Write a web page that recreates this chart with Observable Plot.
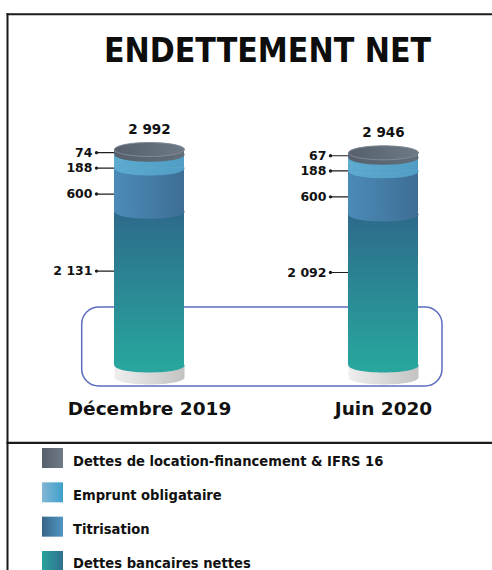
<!DOCTYPE html>
<html><head><meta charset="utf-8">
<script src="https://cdn.jsdelivr.net/npm/d3@7"></script>
<script src="https://cdn.jsdelivr.net/npm/@observablehq/plot@0.6"></script>
<style>
html,body{margin:0;padding:0;background:#fff;}
#chart{position:relative;width:492px;height:570px;overflow:hidden;}
.cond{font-family:"DejaVu Sans Condensed","DejaVu Sans",sans-serif;font-stretch:condensed;font-weight:bold;}
</style>
</head><body>
<svg width="0" height="0" style="position:absolute">
<defs>
  <linearGradient id="gBank" x1="0" y1="0" x2="0" y2="1">
    <stop offset="0" stop-color="#2d6a8b"/><stop offset="1" stop-color="#28a59d"/>
  </linearGradient>
  <linearGradient id="gTit" x1="0" y1="0" x2="1" y2="0">
    <stop offset="0" stop-color="#4b8bb8"/><stop offset="1" stop-color="#3e6e94"/>
  </linearGradient>
  <linearGradient id="gEmp" x1="0" y1="0" x2="1" y2="0">
    <stop offset="0" stop-color="#5eabd1"/><stop offset="1" stop-color="#509dc5"/>
  </linearGradient>
  <linearGradient id="gLoc" x1="0" y1="0" x2="1" y2="0">
    <stop offset="0" stop-color="#56616d"/><stop offset="1" stop-color="#626d7a"/>
  </linearGradient>
  <linearGradient id="gCap" x1="0" y1="0" x2="1" y2="0">
    <stop offset="0" stop-color="#55606c"/><stop offset="1" stop-color="#6d7985"/>
  </linearGradient>
  <linearGradient id="gBase" x1="0" y1="0" x2="1" y2="0">
    <stop offset="0" stop-color="#eeeeee"/><stop offset="1" stop-color="#c3c3c3"/>
  </linearGradient>
  <linearGradient id="sLoc" x1="0" y1="0" x2="1" y2="0">
    <stop offset="0" stop-color="#55606c"/><stop offset="1" stop-color="#6f7a86"/>
  </linearGradient>
  <linearGradient id="sEmp" x1="0" y1="0" x2="1" y2="0">
    <stop offset="0" stop-color="#82b6d4"/><stop offset="1" stop-color="#3fa0cc"/>
  </linearGradient>
  <linearGradient id="sTit" x1="0" y1="0" x2="1" y2="0">
    <stop offset="0" stop-color="#386688"/><stop offset="1" stop-color="#5096c3"/>
  </linearGradient>
  <linearGradient id="sBank" x1="0" y1="0" x2="1" y2="0">
    <stop offset="0" stop-color="#29a29b"/><stop offset="1" stop-color="#307090"/>
  </linearGradient>
</defs>
</svg>
<div id="chart"></div>
<script>
// ---- data ----
const title = "ENDETTEMENT NET";
const periods = ["Décembre 2019", "Juin 2020"];
// series listed bottom-to-top of the stack
const series = ["Dettes bancaires nettes", "Titrisation", "Emprunt obligataire", "Dettes de location-financement & IFRS 16"];
const dettesBancaires = [2131, 2092];
const titrisation = [600, 600];
const empruntObligataire = [188, 188];
const locationFinancement = [74, 67];
const totalLabels = ["2 992", "2 946"];

// ---- styles ----
const fills = {
  "Dettes bancaires nettes": "url(#gBank)",
  "Titrisation": "url(#gTit)",
  "Emprunt obligataire": "url(#gEmp)",
  "Dettes de location-financement & IFRS 16": "url(#gLoc)"
};
const edgeFills = {
  "Dettes bancaires nettes": "#28a59d",
  "Titrisation": "url(#gTit)",
  "Emprunt obligataire": "url(#gEmp)",
  "Dettes de location-financement & IFRS 16": "url(#gLoc)"
};
const swatchFills = {
  "Dettes bancaires nettes": "url(#sBank)",
  "Titrisation": "url(#sTit)",
  "Emprunt obligataire": "url(#sEmp)",
  "Dettes de location-financement & IFRS 16": "url(#sLoc)"
};
const labelDy = {
  "Dettes bancaires nettes": -17.5,
  "Titrisation": 4,
  "Emprunt obligataire": 6.5,
  "Dettes de location-financement & IFRS 16": 0.5
};

const valuesBySeries = {
  "Dettes bancaires nettes": dettesBancaires,
  "Titrisation": titrisation,
  "Emprunt obligataire": empruntObligataire,
  "Dettes de location-financement & IFRS 16": locationFinancement
};
const stacked = [];
periods.forEach((p, i) => {
  let acc = 0;
  series.forEach(s => {
    const v = valuesBySeries[s][i];
    stacked.push({period: p, series: s, value: v, y1: acc, y2: acc + v, mid: acc + v / 2});
    acc += v;
  });
});
const totals = periods.map((p, i) => ({
  period: p,
  top: d3.sum(stacked.filter(d => d.period === p), d => d.value),
  label: totalLabels[i]
}));

const fmt = d3.formatLocale({decimal: ",", thousands: " ", grouping: [3], currency: ["", " €"]}).format(",d");

// cylinder symbols (pixel geometry of the drum)
const RX = 35, RY = 7, BASE_H = 12, K = 0.5522847498;
const lowerHalf = {draw(ctx) {
  ctx.moveTo(-RX, -1); ctx.lineTo(-RX, 0);
  ctx.bezierCurveTo(-RX, K * RY, -K * RX, RY, 0, RY);
  ctx.bezierCurveTo(K * RX, RY, RX, K * RY, RX, 0);
  ctx.lineTo(RX, -1); ctx.closePath();
}};
const baseShape = {draw(ctx) {
  ctx.moveTo(-RX, 0); ctx.lineTo(-RX, BASE_H);
  ctx.bezierCurveTo(-RX, BASE_H + K * RY, -K * RX, BASE_H + RY, 0, BASE_H + RY);
  ctx.bezierCurveTo(K * RX, BASE_H + RY, RX, BASE_H + K * RY, RX, BASE_H);
  ctx.lineTo(RX, 0); ctx.closePath();
}};
const fullEllipse = {draw(ctx) {
  ctx.moveTo(-RX, 0);
  ctx.bezierCurveTo(-RX, -K * RY, -K * RX, -RY, 0, -RY);
  ctx.bezierCurveTo(K * RX, -RY, RX, -K * RY, RX, 0);
  ctx.bezierCurveTo(RX, K * RY, K * RX, RY, 0, RY);
  ctx.bezierCurveTo(-K * RX, RY, -RX, K * RY, -RX, 0);
  ctx.closePath();
}};

const bySeries = s => stacked.filter(d => d.series === s);

const plot = Plot.plot({
  width: 492, height: 570,
  marginLeft: 113, marginRight: 74, marginTop: 149, marginBottom: 205,
  x: {type: "band", domain: periods, paddingInner: 0.702, paddingOuter: 0, axis: null},
  y: {domain: [0, d3.max(totals, d => d.top)], axis: null},
  color: {type: "identity"},
  style: {background: "transparent", fontFamily: "DejaVu Sans, sans-serif", overflow: "visible", color: "#111"},
  marks: [
    ...series.map(s => Plot.tickY(bySeries(s), {x: "period", y: "mid", dx: -18, dy: labelDy[s], stroke: "#1e1e1e", strokeWidth: 1.2})),
    Plot.dot(periods, {x: d => d, y: () => 0, symbol: baseShape, fill: () => "url(#gBase)", stroke: "none"}),
    Plot.barY(stacked, {x: "period", y1: "y1", y2: "y2", fill: d => fills[d.series]}),
    Plot.dot(stacked, {x: "period", y: "y1", symbol: lowerHalf, fill: d => edgeFills[d.series], stroke: "none"}),
    Plot.dot(totals, {x: "period", y: "top", symbol: fullEllipse, fill: () => "url(#gCap)", stroke: "#7f8a95", strokeWidth: 1}),
    ...series.map(s => Plot.dot(bySeries(s), {x: "period", y: "mid", dx: -53, dy: labelDy[s], r: 1.7, fill: "#1e1e1e", stroke: "none"})),
    ...series.map(s => Plot.text(bySeries(s), {x: "period", y: "mid", dx: -57, dy: labelDy[s], text: d => fmt(d.value), textAnchor: "end", fontSize: 12.5, fontWeight: "bold", fill: "#111"})),
    Plot.text(totals, {x: "period", y: "top", dy: -20, text: "label", fontSize: 13.5, fontWeight: "bold", fill: "#111"}),
    Plot.text(periods, {x: d => d, y: () => 0, dy: 44, text: d => d, fontSize: 18.5, fontWeight: "bold", fill: "#111"})
  ]
});

const X = plot.scale("x"), Y = plot.scale("y");
const svg = d3.select(plot);
const y0 = Y.apply(0);
const firstG = plot.querySelector("g");
const hl = document.createElementNS("http://www.w3.org/2000/svg", "rect");
const hx1 = X.apply(periods[0]) - 32.3, hx2 = X.apply(periods[periods.length - 1]) + X.bandwidth + 24;
d3.select(hl).attr("x", hx1).attr("y", y0 - 58).attr("width", hx2 - hx1).attr("height", 79)
  .attr("rx", 17).attr("ry", 17).attr("fill", "none").attr("stroke", "#5c6dbf").attr("stroke-width", 1.5);
plot.insertBefore(hl, firstG);

// title
svg.append("text").attr("class", "cond").attr("x", 267.5).attr("y", 61.7)
  .attr("text-anchor", "middle").attr("font-size", 33.5).attr("fill", "#0d0d0d").text(title);

// frame lines
const lines = svg.append("g").attr("stroke", "#1b1b1b").attr("stroke-width", 2);
lines.append("line").attr("x1", 7.5).attr("x2", 7.5).attr("y1", 13.3).attr("y2", 570);
lines.append("line").attr("x1", 6.5).attr("x2", 492).attr("y1", 14.3).attr("y2", 14.3);
lines.append("line").attr("x1", 6.5).attr("x2", 492).attr("y1", 442.8).attr("y2", 442.8).attr("stroke-width", 2.3);

// legend (top series first)
const legend = svg.append("g").attr("text-anchor", "start");
series.slice().reverse().forEach((s, i) => {
  const top = 448 + i * 34.33;
  legend.append("rect").attr("x", 42).attr("y", top).attr("width", 21).attr("height", 20).attr("fill", swatchFills[s]);
  legend.append("text").attr("class", "cond").attr("x", 73).attr("y", top + 17.5)
    .attr("text-anchor", "start").attr("font-size", 14.6).attr("fill", "#111").text(s);
});

document.getElementById("chart").appendChild(plot);
</script>
</body></html>
